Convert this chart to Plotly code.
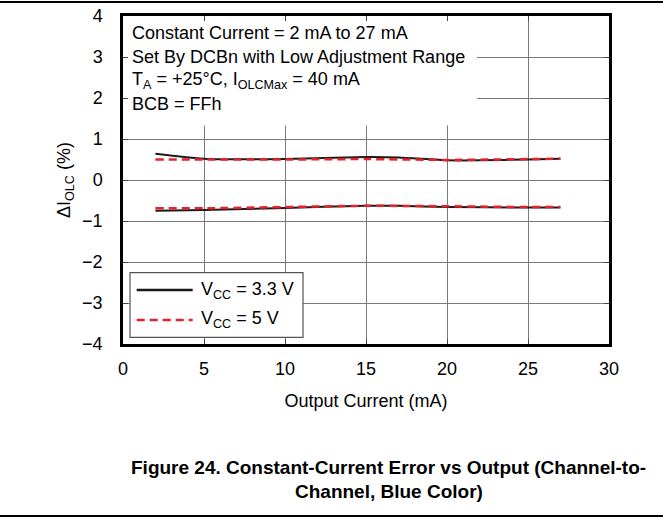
import plotly.graph_objects as go

# Data
x_black_hi = [2, 5, 10, 15, 17, 20, 22, 25, 27]
y_black_hi = [0.64, 0.52, 0.51, 0.56, 0.55, 0.48, 0.48, 0.50, 0.52]
x_black_lo = [2, 5, 10, 15, 17, 20, 25, 27]
y_black_lo = [-0.75, -0.73, -0.68, -0.63, -0.63, -0.66, -0.67, -0.67]
x_red_hi = [2, 5, 10, 15, 20, 25, 27]
y_red_hi = [0.50, 0.50, 0.50, 0.51, 0.49, 0.51, 0.52]
x_red_lo = [2, 5, 10, 15, 20, 25, 27]
y_red_lo = [-0.69, -0.69, -0.66, -0.63, -0.64, -0.66, -0.66]

x_ticks = [0, 5, 10, 15, 20, 25, 30]
y_ticks = [-4, -3, -2, -1, 0, 1, 2, 3, 4]

series_names = ["V<sub>CC</sub> = 3.3 V", "V<sub>CC</sub> = 5 V"]

FONT = "Liberation Sans, Arial, Helvetica, sans-serif"
CAP_FONT = "Liberation Sans Narrow, Arial Narrow, Liberation Sans, Arial, sans-serif"
BLACK = "#1a1a1a"
RED = "#e8202a"
DASH = "8px,5px"

fig = go.Figure()
fig.add_trace(go.Scatter(x=x_black_hi, y=y_black_hi, mode="lines",
                         line=dict(color=BLACK, width=2, shape="spline", smoothing=0.6),
                         name=series_names[0], showlegend=False))
fig.add_trace(go.Scatter(x=x_black_lo, y=y_black_lo, mode="lines",
                         line=dict(color=BLACK, width=2, shape="spline", smoothing=0.6),
                         name=series_names[0], showlegend=False))
fig.add_trace(go.Scatter(x=x_red_hi, y=y_red_hi, mode="lines",
                         line=dict(color=RED, width=2.5, dash=DASH, shape="spline", smoothing=0.6),
                         name=series_names[1], showlegend=False))
fig.add_trace(go.Scatter(x=x_red_lo, y=y_red_lo, mode="lines",
                         line=dict(color=RED, width=2.5, dash=DASH, shape="spline", smoothing=0.6),
                         name=series_names[1], showlegend=False))

axis_common = dict(
    showline=True, linecolor="black", linewidth=2.5, mirror="ticks",
    ticks="inside", ticklen=5, tickwidth=1.2, tickcolor="#444",
    showgrid=True, gridcolor="#7a7a7a", gridwidth=1.2, zeroline=False,
    automargin=False,
    tickfont=dict(family=FONT, size=18, color="black"),
)

fig.update_xaxes(range=[0, 30], tickvals=x_ticks, ticklabelstandoff=7,
                 title=dict(text="Output Current (mA)", font=dict(family=FONT, size=18, color="black"),
                            standoff=17),
                 **axis_common)
fig.update_yaxes(range=[-4, 4], tickvals=y_ticks, ticklabelstandoff=14,
                 title=dict(text="ΔI<sub>OLC</sub> (%)", font=dict(family=FONT, size=18, color="black"),
                            standoff=7),
                 **axis_common)

shapes = [
    # white panel behind the condition text
    dict(type="rect", xref="x", yref="y", x0=0, x1=21.85, y0=1.33, y1=4,
         fillcolor="white", line=dict(width=0), layer="between"),
    # page rules
    dict(type="line", xref="paper", yref="paper", x0=-0.26, x1=1.12, y0=1.0427, y1=1.0427,
         line=dict(color="black", width=2)),
    dict(type="line", xref="paper", yref="paper", x0=-0.26, x1=1.12, y0=-0.5244, y1=-0.5244,
         line=dict(color="black", width=2)),
    # legend box
    dict(type="rect", xref="paper", yref="paper", x0=0.0144, x1=0.3704, y0=0.0204, y1=0.2174,
         fillcolor="white", line=dict(color="#555", width=1.2)),
    dict(type="line", xref="paper", yref="paper", x0=0.0282, x1=0.1434, y0=0.1646, y1=0.1646,
         line=dict(color=BLACK, width=2.5)),
    dict(type="line", xref="paper", yref="paper", x0=0.0282, x1=0.1434, y0=0.0732, y1=0.0732,
         line=dict(color=RED, width=2.5, dash=DASH)),
]

info_lines = [
    "Constant Current = 2 mA to 27 mA",
    "Set By DCBn with Low Adjustment Range",
    "T<sub>A</sub> = +25°C, I<sub>OLCMax</sub> = 40 mA",
    "BCB = FFh",
]
info_y = [0.948, 0.875, 0.802, 0.732]
annotations = []
for t, yy in zip(info_lines, info_y):
    annotations.append(dict(text=t, xref="paper", yref="paper", x=0.0144, y=yy,
                            xanchor="left", yanchor="middle", showarrow=False,
                            font=dict(family=FONT, size=18, color="black")))

for t, yy in zip(series_names, [0.1646, 0.0732]):
    annotations.append(dict(text=t, xref="paper", yref="paper", x=0.1565, y=yy,
                            xanchor="left", yanchor="middle", showarrow=False,
                            font=dict(family=FONT, size=18, color="black")))

annotations.append(dict(text="<b>Figure 24. Constant-Current Error vs Output (Channel-to-</b>",
                        xref="paper", yref="paper", x=0.547, y=-0.378, xanchor="center",
                        yanchor="middle", showarrow=False,
                        font=dict(family=CAP_FONT, size=19, color="black")))
annotations.append(dict(text="<b>Channel, Blue Color)</b>",
                        xref="paper", yref="paper", x=0.547, y=-0.451, xanchor="center",
                        yanchor="middle", showarrow=False,
                        font=dict(family=CAP_FONT, size=19, color="black")))

fig.update_layout(
    width=663, height=523,
    margin=dict(l=123, r=54, t=16, b=179, autoexpand=False),
    paper_bgcolor="white", plot_bgcolor="white",
    font=dict(family=FONT, size=18, color="black"),
    showlegend=False,
    shapes=shapes,
    annotations=annotations,
)

fig.write_html("out.html",
               config={"displayModeBar": False},
               post_script="document.body.style.margin='0';document.body.style.overflow='hidden';")
